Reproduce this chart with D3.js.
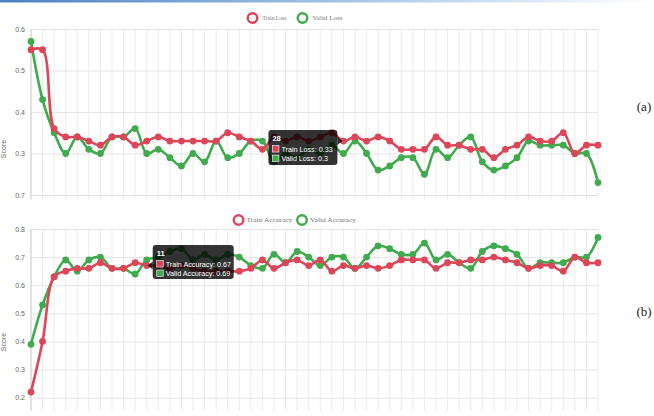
<!DOCTYPE html>
<html><head><meta charset="utf-8">
<script src="https://cdn.jsdelivr.net/npm/d3@7"></script>
<style>
html,body{margin:0;padding:0;background:#fff;}
svg{display:block;}
</style></head>
<body>
<svg id="chart" width="654" height="416"></svg>
<script>
// ---------- DATA ----------
const epochs = d3.range(1, 51).map(String);
const trainLoss = [0.55,0.55,0.36,0.34,0.34,0.33,0.32,0.34,0.34,0.32,
                   0.33,0.34,0.33,0.33,0.33,0.33,0.33,0.35,0.34,0.33,
                   0.31,0.34,0.33,0.34,0.33,0.34,0.35,0.33,0.34,0.33,
                   0.34,0.33,0.31,0.31,0.31,0.34,0.32,0.32,0.31,0.31,
                   0.29,0.31,0.32,0.34,0.33,0.33,0.35,0.30,0.32,0.32];
const validLoss = [0.57,0.43,0.35,0.30,0.34,0.31,0.30,0.34,0.34,0.36,
                   0.30,0.31,0.29,0.27,0.30,0.28,0.33,0.29,0.30,0.33,
                   0.33,0.28,0.30,0.29,0.31,0.30,0.32,0.30,0.33,0.30,
                   0.26,0.27,0.29,0.29,0.25,0.31,0.29,0.32,0.34,0.28,
                   0.26,0.27,0.29,0.33,0.32,0.32,0.32,0.30,0.30,0.23];
const trainAcc  = [0.22,0.40,0.63,0.65,0.66,0.66,0.68,0.66,0.66,0.68,
                   0.67,0.67,0.66,0.67,0.66,0.65,0.65,0.65,0.65,0.66,
                   0.69,0.66,0.68,0.69,0.67,0.69,0.65,0.67,0.66,0.67,
                   0.66,0.67,0.69,0.69,0.69,0.66,0.68,0.68,0.69,0.69,
                   0.70,0.69,0.68,0.66,0.67,0.67,0.65,0.70,0.68,0.68];
const validAcc  = [0.39,0.53,0.63,0.69,0.65,0.69,0.70,0.66,0.66,0.64,
                   0.69,0.70,0.72,0.73,0.69,0.71,0.69,0.71,0.70,0.67,
                   0.66,0.71,0.68,0.72,0.70,0.67,0.70,0.70,0.66,0.70,
                   0.74,0.73,0.71,0.71,0.75,0.69,0.71,0.68,0.66,0.72,
                   0.74,0.73,0.71,0.66,0.68,0.68,0.68,0.70,0.70,0.77];
const lossTicks = [0.2, 0.3, 0.4, 0.5, 0.6];
const lossTickLabels = ["0.7", "0.3", "0.4", "0.5", "0.6"];
const accTicks = [0.2, 0.3, 0.4, 0.5, 0.6, 0.7, 0.8];
const accTickLabels = ["0.2", "0.3", "0.4", "0.5", "0.6", "0.7", "0.8"];
const lossNames = ["Train Loss", "Valid Loss"];
const accNames = ["Train Accuracy", "Valid Accuracy"];
const lossTooltipIndex = 27;
const accTooltipIndex = 10;
const panelLabels = ["(a)", "(b)"];

// ---------- STYLE ----------
const RED = "#dd4658", GREEN = "#40ab4c";
const svg = d3.select("#chart");

// top gradient bar
const defs = svg.append("defs");
const grad = defs.append("linearGradient").attr("id", "topbar");
grad.append("stop").attr("offset", "0%").attr("stop-color", "#4a80c4");
grad.append("stop").attr("offset", "55%").attr("stop-color", "#a9c6e8");
grad.append("stop").attr("offset", "100%").attr("stop-color", "#ffffff");
svg.append("rect").attr("x", 0).attr("y", 0).attr("width", 654).attr("height", 2.5).attr("fill", "url(#topbar)");

const x = d3.scalePoint().domain(epochs).range([31, 598]);

function drawPanel(cfg) {
  const g = svg.append("g");
  const y = d3.scaleLinear().domain(cfg.domain).range([cfg.yBottom, cfg.yTop]);

  // vertical grid
  g.append("g").selectAll("line").data(epochs).join("line")
    .attr("x1", d => x(d)).attr("x2", d => x(d))
    .attr("y1", cfg.yTop).attr("y2", cfg.gridBottom)
    .attr("stroke", "#ececec").attr("stroke-width", 1);

  // y axis with horizontal grid
  const ax = g.append("g").attr("transform", "translate(31,0)")
    .call(d3.axisLeft(y).tickValues(cfg.ticks)
      .tickFormat((d, i) => cfg.tickLabels[i])
      .tickSize(-(598 - 31)).tickPadding(6));
  ax.select(".domain").remove();
  ax.selectAll(".tick line").attr("stroke", "#e4e4e4");
  ax.selectAll(".tick text").attr("fill", "#666")
    .style("font-family", "'Liberation Sans', Arial, sans-serif").style("font-size", "7px");

  // axis line
  g.append("line").attr("x1", 31).attr("x2", 31).attr("y1", cfg.yTop).attr("y2", cfg.gridBottom)
    .attr("stroke", "#cfcfcf").attr("stroke-width", 1);

  // y title
  g.append("text").attr("transform", `translate(6,${cfg.titleY}) rotate(-90)`)
    .attr("text-anchor", "middle").attr("fill", "#666")
    .style("font-family", "'Liberation Sans', Arial, sans-serif").style("font-size", "7px")
    .text("Score");

  // lines
  const line = d3.line().x((d, i) => x(epochs[i])).y(d => y(d)).curve(d3.curveCatmullRom.alpha(0.5));
  const series = [{v: cfg.valid, c: GREEN}, {v: cfg.train, c: RED}];
  series.forEach(s => {
    g.append("path").datum(s.v).attr("d", line).attr("fill", "none")
      .attr("stroke", s.c).attr("stroke-width", 2.6).attr("stroke-linejoin", "round");
    g.append("g").selectAll("circle").data(s.v).join("circle")
      .attr("cx", (d, i) => x(epochs[i])).attr("cy", d => y(d)).attr("r", 3.4)
      .attr("fill", s.c);
  });

  // legend
  const lg = g.append("g");
  cfg.legend.forEach((it, i) => {
    lg.append("circle").attr("cx", it.cx).attr("cy", cfg.legendY).attr("r", 4.8)
      .attr("fill", "#fff").attr("stroke", i === 0 ? RED : GREEN).attr("stroke-width", 2.4);
    lg.append("text").attr("x", it.cx + cfg.legendGap).attr("y", cfg.legendY + 2.3)
      .attr("fill", "#777").attr("textLength", it.w).attr("lengthAdjust", "spacingAndGlyphs")
      .style("font-family", "'Liberation Serif', 'Times New Roman', serif").style("font-size", cfg.legendFont + "px")
      .text(cfg.names[i]);
  });

  // tooltip
  const ti = cfg.tipIndex;
  const px = x(epochs[ti]);
  const py = y(cfg.train[ti]);
  const tw = cfg.tipW, th = cfg.tipH;
  const tx = cfg.tipSide === "left" ? px - 6 - tw : px + 6;
  const ty = py + cfg.tipDy;
  const tg = g.append("g").attr("transform", `translate(${tx},${ty})`);
  tg.append("rect").attr("width", tw).attr("height", th).attr("rx", 3).attr("fill", "rgba(0,0,0,0.8)");
  if (cfg.tipSide === "left") {
    tg.append("path").attr("d", `M${tw},${py - ty - 4}L${tw + 5},${py - ty}L${tw},${py - ty + 4}Z`).attr("fill", "rgba(0,0,0,0.8)");
  } else {
    tg.append("path").attr("d", `M0,${py - ty - 4}L-5,${py - ty}L0,${py - ty + 4}Z`).attr("fill", "rgba(0,0,0,0.8)");
  }
  tg.append("text").attr("x", 4).attr("y", 10.5).attr("fill", "#fff")
    .style("font-family", "'Liberation Sans', Arial, sans-serif").style("font-size", "7.5px").style("font-weight", "bold")
    .text(epochs[ti]);
  const rows = [{n: cfg.names[0], v: cfg.train[ti], c: RED}, {n: cfg.names[1], v: cfg.valid[ti], c: GREEN}];
  rows.forEach((r, k) => {
    const ry = 15.5 + k * 9.5;
    tg.append("rect").attr("x", 4).attr("y", ry).attr("width", 6.5).attr("height", 6.5)
      .attr("fill", r.c).attr("stroke", "#fff").attr("stroke-width", 0.6);
    tg.append("text").attr("x", 13).attr("y", ry + 6).attr("fill", "#fff")
      .style("font-family", "'Liberation Sans', Arial, sans-serif").style("font-size", "7.2px")
      .text(`${r.n}: ${d3.format("~")(r.v)}`);
  });

  // panel label
  svg.append("text").attr("x", 644).attr("y", cfg.panelY).attr("text-anchor", "middle").attr("fill", "#222")
    .style("font-family", "'Liberation Serif', 'Times New Roman', serif").style("font-size", "13px")
    .text(cfg.panel);
}

drawPanel({
  domain: [0.2, 0.6], yTop: 29, yBottom: 195, gridBottom: 199,
  ticks: lossTicks, tickLabels: lossTickLabels, titleY: 149,
  train: trainLoss, valid: validLoss, names: lossNames,
  legendY: 18, legendFont: 6.5, legendGap: 10,
  legend: [{cx: 252.5, w: 24}, {cx: 302.5, w: 30}],
  tipIndex: lossTooltipIndex, tipSide: "left", tipW: 69, tipH: 35, tipDy: -11,
  panel: panelLabels[0], panelY: 111
});
drawPanel({
  domain: [0.2, 0.8], yTop: 229, yBottom: 397.7, gridBottom: 411,
  ticks: accTicks, tickLabels: accTickLabels, titleY: 342,
  train: trainAcc, valid: validAcc, names: accNames,
  legendY: 220, legendFont: 7, legendGap: 8,
  legend: [{cx: 238.5, w: 46}, {cx: 302, w: 46}],
  tipIndex: accTooltipIndex, tipSide: "right", tipW: 81, tipH: 34, tipDy: -20.5,
  panel: panelLabels[1], panelY: 316
});
</script>
</body></html>
